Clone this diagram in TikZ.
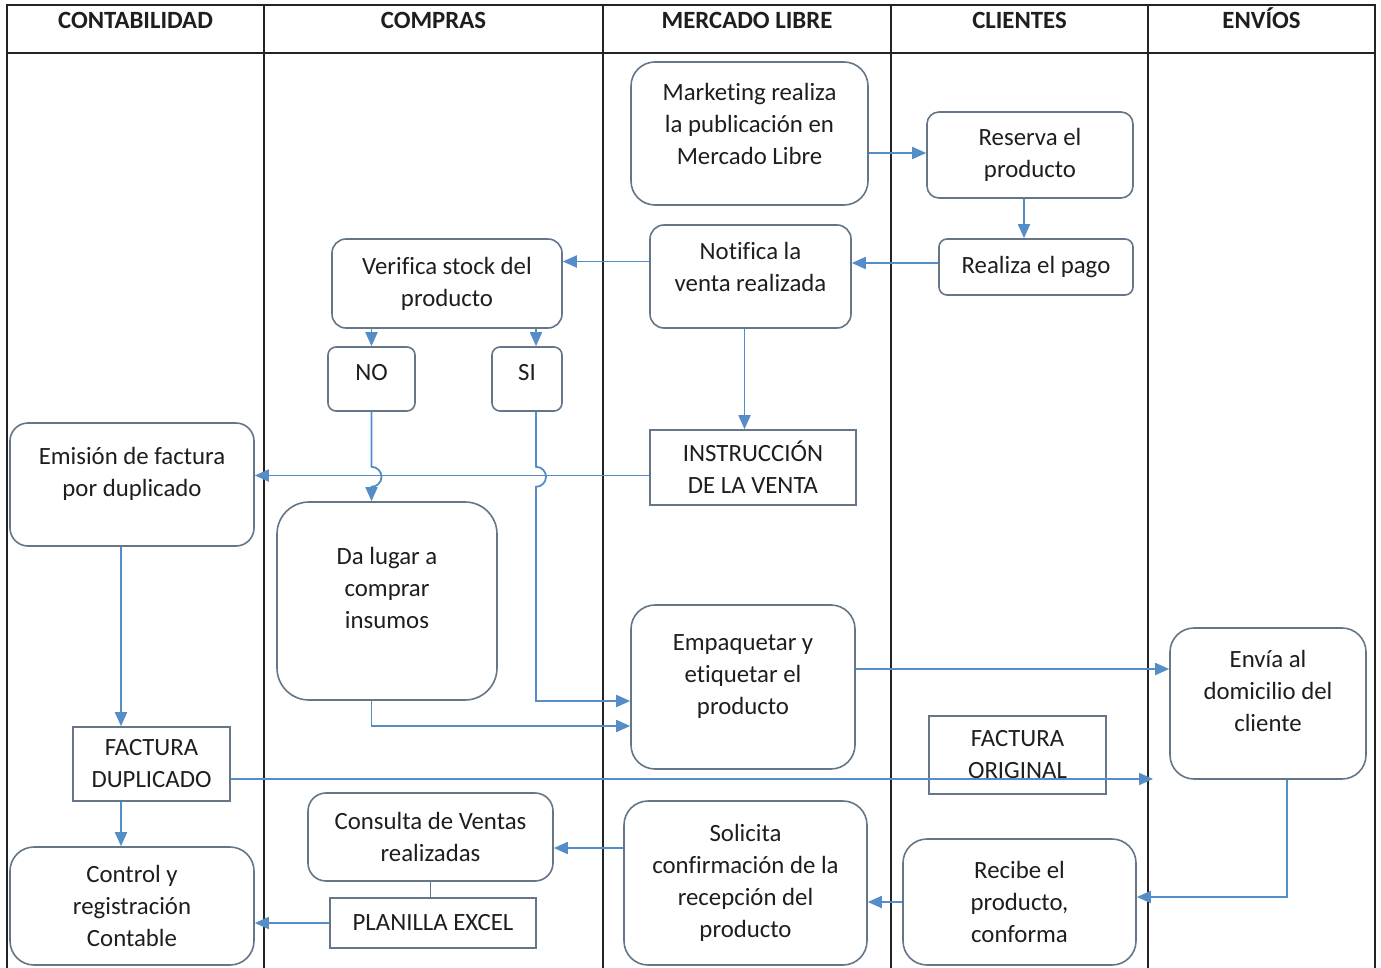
\documentclass[tikz,border=0pt]{standalone}
\usepackage{fontspec}
\setmainfont{Carlito}[Ligatures=NoCommon,Contextuals=NoAlternate,RawFeature=-clig]
\usetikzlibrary{arrows.meta}
\definecolor{laneblack}{RGB}{35,35,35}
\definecolor{boxgray}{RGB}{100,118,136}
\definecolor{flowblue}{RGB}{84,141,199}
\definecolor{inkgray}{RGB}{30,30,30}
\begin{document}
\begin{tikzpicture}[x=0.5pt,y=-0.5pt,
    lane/.style={draw=laneblack,line width=0.8pt},
    hdr/.style={font=\fontsize{12.4}{15}\selectfont\bfseries,text=inkgray,text height=8pt,text depth=0pt},
    box/.style={draw=boxgray,fill=white,line width=0.8pt,rounded corners=7pt,align=center,
        inner sep=0pt,font=\fontsize{12.4}{16}\selectfont,text=inkgray},
    doc/.style={box,sharp corners},
    flow/.style={draw=flowblue,line width=0.9pt,-{Triangle[length=7pt,width=6pt]}},
    link/.style={draw=boxgray,line width=0.8pt}]
    \useasboundingbox (0,0) rectangle (1381,968);
    % lanes
    \draw[lane] (7,5) rectangle (1375,980);
    \draw[lane] (7,53) -- (1375,53);
    \foreach \x in {264,603,891,1148}
        \draw[lane] (\x,5) -- (\x,980);
    \node[hdr] (hContab) at (135.5,21) {CONTABILIDAD};
    \node[hdr] (hCompras) at (433.5,21) {COMPRAS};
    \node[hdr] (hMercado) at (747,21) {MERCADO LIBRE};
    \node[hdr] (hClientes) at (1019.5,21) {CLIENTES};
    \node[hdr] (hEnvios) at (1261.5,21) {ENVÍOS};
    % steps
    \node[box,rounded corners=12pt,minimum width=118.5pt,minimum height=71.5pt,text depth=9.5pt] (mkt) at (749.5,133.5) {Marketing realiza\\la publicación en\\Mercado Libre};
    \node[box,rounded corners=6pt,minimum width=103pt,minimum height=43pt] (reserva) at (1030,155) {Reserva el\\producto};
    \node[box,rounded corners=4pt,minimum width=97pt,minimum height=28pt] (pago) at (1036,267) {Realiza el pago};
    \node[box,minimum width=100.5pt,minimum height=51.5pt,text depth=9.5pt] (notifica) at (750.5,276.5) {Notifica la\\venta realizada};
    \node[box,minimum width=115pt,minimum height=44.5pt] (verifica) at (447,283.5) {Verifica stock del\\producto};
    \node[box,rounded corners=4pt,minimum width=43.5pt,minimum height=32pt,text depth=7pt] (no) at (371.5,379) {NO};
    \node[box,rounded corners=4pt,minimum width=35pt,minimum height=32pt,text depth=7pt] (si) at (527,379) {SI};
    \node[doc,minimum width=103pt,minimum height=37.5pt] (instr) at (753,467.5) {INSTRUCCIÓN\\DE LA VENTA};
    \node[box,rounded corners=9pt,minimum width=122pt,minimum height=61.5pt,text depth=13pt] (emision) at (132,484.5) {Emisión de factura\\por duplicado};
    \node[box,rounded corners=16pt,minimum width=110pt,minimum height=99pt,text depth=13pt] (dalugar) at (387,601) {Da lugar a\\comprar\\insumos};
    \node[box,rounded corners=12pt,minimum width=112pt,minimum height=82pt,text depth=12pt] (empaquetar) at (743,687) {Empaquetar y\\etiquetar el\\producto};
    \node[box,rounded corners=12pt,minimum width=98pt,minimum height=75.5pt,text depth=13pt] (envia) at (1268,703.5) {Envía al\\domicilio del\\cliente};
    \node[doc,minimum width=78.5pt,minimum height=37pt] (facdup) at (151.5,764) {FACTURA\\DUPLICADO};
    \node[doc,fill=none,minimum width=88.5pt,minimum height=39pt] (facorig) at (1017.5,755) {FACTURA\\ORIGINAL};
    \node[box,rounded corners=9pt,minimum width=122.5pt,minimum height=44pt] (consulta) at (430.5,837) {Consulta de Ventas\\realizadas};
    \node[doc,minimum width=103pt,minimum height=25pt] (planilla) at (433,923) {PLANILLA EXCEL};
    \node[box,rounded corners=12pt,minimum width=121.5pt,minimum height=82pt] (solicita) at (745.5,883) {Solicita\\confirmación de la\\recepción del\\producto};
    \node[box,rounded corners=12pt,minimum width=116.5pt,minimum height=63pt] (recibe) at (1019.5,902) {Recibe el\\producto,\\conforma};
    \node[box,rounded corners=12pt,minimum width=122pt,minimum height=59pt] (control) at (132,906) {Control y\\registración\\Contable};
    \coordinate (fdEnd) at (1153,779);
    % connectors
    \draw[flow] (mkt.east |- 0,153) -- (reserva.west |- 0,153);
    \draw[flow] ([xshift=-3pt]reserva.south) -- ([xshift=-3pt]reserva.south |- pago.north);
    \draw[flow] ([yshift=2pt]pago.west) -- ([yshift=2pt]pago.west -| notifica.east);
    \draw[flow] ([yshift=7.5pt]notifica.west) -- ([yshift=7.5pt]notifica.west -| verifica.east);
    \draw[flow] (no.north |- verifica.south) -- (no.north);
    \draw[flow] ([xshift=4.5pt]si.north |- verifica.south) -- ([xshift=4.5pt]si.north);
    \draw[flow] ([xshift=-3pt]notifica.south) -- ([xshift=-3pt]notifica.south |- instr.north);
    \draw[flow] ([yshift=-4pt]instr.west) -- ([yshift=-4pt]instr.west -| emision.east);
    \draw[flow] (no.south) -- ++(0,55) arc[start angle=-90,end angle=90,radius=10] -- (no.south |- dalugar.north);
    \draw[flow] ([xshift=4.5pt]si.south) -- ++(0,55) arc[start angle=-90,end angle=90,radius=10]
        |- ([yshift=-7pt]empaquetar.west);
    \draw[flow] ([xshift=-7.75pt]dalugar.south) |- ([yshift=-19.5pt]empaquetar.west);
    \draw[flow] ([xshift=-5.5pt]emision.south) -- ([xshift=-5.5pt]emision.south |- facdup.north);
    \draw[flow] ([yshift=-7.5pt]facdup.east) -- (fdEnd);
    \draw[flow] ([xshift=-15.25pt]facdup.south) -- ([xshift=-15.25pt]facdup.south |- control.north);
    \draw[flow] ([yshift=9pt]empaquetar.east) -- ([yshift=9pt]empaquetar.east -| envia.west);
    \draw[flow] ([xshift=9.5pt]envia.south) |- ([yshift=2.5pt]recibe.east);
    \draw[flow] (recibe.west) -- (recibe.west -| solicita.east);
    \draw[flow] ([yshift=17.5pt]solicita.west) -- ([yshift=17.5pt]solicita.west -| consulta.east);
    \draw[link] (consulta.south) -- (consulta.south |- planilla.north);
    \draw[flow] (planilla.west) -- (planilla.west -| control.east);
\end{tikzpicture}
\end{document}
